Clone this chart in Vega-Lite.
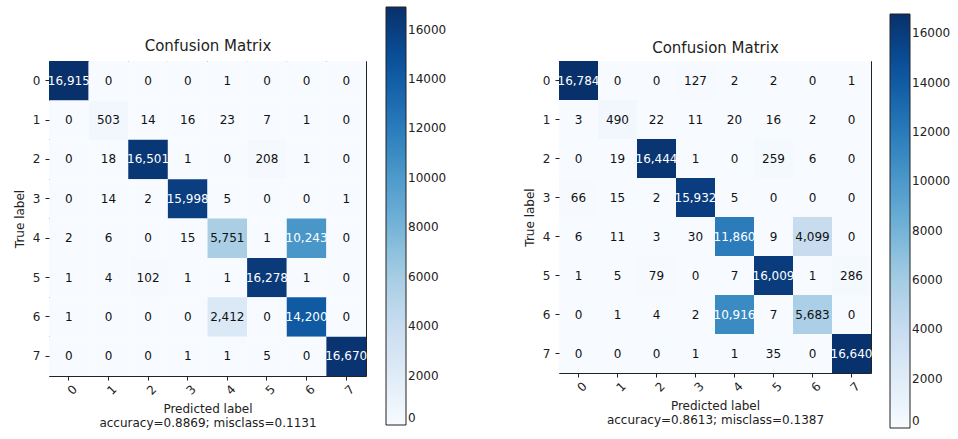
{
  "$schema": "https://vega.github.io/schema/vega-lite/v6.json",
  "padding": {"left": 12, "top": 6, "right": 5, "bottom": 5},
  "spacing": 74,
  "config": {
    "font": "DejaVu Sans",
    "view": {"stroke": "#222", "strokeWidth": 1},
    "axis": {"domain": false, "tickColor": "#222", "tickSize": 4, "labelColor": "#222", "labelFontSize": 12, "titleFontSize": 12, "titleFontWeight": "normal", "titleColor": "#222", "grid": false},
    "legend": {"labelFontSize": 12, "labelColor": "#222", "gradientStrokeColor": "#222", "gradientStrokeWidth": 1, "labelOffset": 10}
  },
  "datasets": {
    "left": [
      {"t":0,"p":0,"v":16915},{"t":0,"p":1,"v":0},{"t":0,"p":2,"v":0},{"t":0,"p":3,"v":0},{"t":0,"p":4,"v":1},{"t":0,"p":5,"v":0},{"t":0,"p":6,"v":0},{"t":0,"p":7,"v":0},
      {"t":1,"p":0,"v":0},{"t":1,"p":1,"v":503},{"t":1,"p":2,"v":14},{"t":1,"p":3,"v":16},{"t":1,"p":4,"v":23},{"t":1,"p":5,"v":7},{"t":1,"p":6,"v":1},{"t":1,"p":7,"v":0},
      {"t":2,"p":0,"v":0},{"t":2,"p":1,"v":18},{"t":2,"p":2,"v":16501},{"t":2,"p":3,"v":1},{"t":2,"p":4,"v":0},{"t":2,"p":5,"v":208},{"t":2,"p":6,"v":1},{"t":2,"p":7,"v":0},
      {"t":3,"p":0,"v":0},{"t":3,"p":1,"v":14},{"t":3,"p":2,"v":2},{"t":3,"p":3,"v":15998},{"t":3,"p":4,"v":5},{"t":3,"p":5,"v":0},{"t":3,"p":6,"v":0},{"t":3,"p":7,"v":1},
      {"t":4,"p":0,"v":2},{"t":4,"p":1,"v":6},{"t":4,"p":2,"v":0},{"t":4,"p":3,"v":15},{"t":4,"p":4,"v":5751},{"t":4,"p":5,"v":1},{"t":4,"p":6,"v":10243},{"t":4,"p":7,"v":0},
      {"t":5,"p":0,"v":1},{"t":5,"p":1,"v":4},{"t":5,"p":2,"v":102},{"t":5,"p":3,"v":1},{"t":5,"p":4,"v":1},{"t":5,"p":5,"v":16278},{"t":5,"p":6,"v":1},{"t":5,"p":7,"v":0},
      {"t":6,"p":0,"v":1},{"t":6,"p":1,"v":0},{"t":6,"p":2,"v":0},{"t":6,"p":3,"v":0},{"t":6,"p":4,"v":2412},{"t":6,"p":5,"v":0},{"t":6,"p":6,"v":14200},{"t":6,"p":7,"v":0},
      {"t":7,"p":0,"v":0},{"t":7,"p":1,"v":0},{"t":7,"p":2,"v":0},{"t":7,"p":3,"v":1},{"t":7,"p":4,"v":1},{"t":7,"p":5,"v":5},{"t":7,"p":6,"v":0},{"t":7,"p":7,"v":16670}
    ],
    "right": [
      {"t":0,"p":0,"v":16784},{"t":0,"p":1,"v":0},{"t":0,"p":2,"v":0},{"t":0,"p":3,"v":127},{"t":0,"p":4,"v":2},{"t":0,"p":5,"v":2},{"t":0,"p":6,"v":0},{"t":0,"p":7,"v":1},
      {"t":1,"p":0,"v":3},{"t":1,"p":1,"v":490},{"t":1,"p":2,"v":22},{"t":1,"p":3,"v":11},{"t":1,"p":4,"v":20},{"t":1,"p":5,"v":16},{"t":1,"p":6,"v":2},{"t":1,"p":7,"v":0},
      {"t":2,"p":0,"v":0},{"t":2,"p":1,"v":19},{"t":2,"p":2,"v":16444},{"t":2,"p":3,"v":1},{"t":2,"p":4,"v":0},{"t":2,"p":5,"v":259},{"t":2,"p":6,"v":6},{"t":2,"p":7,"v":0},
      {"t":3,"p":0,"v":66},{"t":3,"p":1,"v":15},{"t":3,"p":2,"v":2},{"t":3,"p":3,"v":15932},{"t":3,"p":4,"v":5},{"t":3,"p":5,"v":0},{"t":3,"p":6,"v":0},{"t":3,"p":7,"v":0},
      {"t":4,"p":0,"v":6},{"t":4,"p":1,"v":11},{"t":4,"p":2,"v":3},{"t":4,"p":3,"v":30},{"t":4,"p":4,"v":11860},{"t":4,"p":5,"v":9},{"t":4,"p":6,"v":4099},{"t":4,"p":7,"v":0},
      {"t":5,"p":0,"v":1},{"t":5,"p":1,"v":5},{"t":5,"p":2,"v":79},{"t":5,"p":3,"v":0},{"t":5,"p":4,"v":7},{"t":5,"p":5,"v":16009},{"t":5,"p":6,"v":1},{"t":5,"p":7,"v":286},
      {"t":6,"p":0,"v":0},{"t":6,"p":1,"v":1},{"t":6,"p":2,"v":4},{"t":6,"p":3,"v":2},{"t":6,"p":4,"v":10916},{"t":6,"p":5,"v":7},{"t":6,"p":6,"v":5683},{"t":6,"p":7,"v":0},
      {"t":7,"p":0,"v":0},{"t":7,"p":1,"v":0},{"t":7,"p":2,"v":0},{"t":7,"p":3,"v":1},{"t":7,"p":4,"v":1},{"t":7,"p":5,"v":35},{"t":7,"p":6,"v":0},{"t":7,"p":7,"v":16640}
    ]
  },
  "resolve": {"scale": {"color": "independent"}, "legend": {"color": "independent"}},
  "hconcat": [
    {
      "data": {"name": "left"},
      "width": 317,
      "height": 315,
      "resolve": {"axis": {"x": "independent"}},
      "layer": [
        {
          "mark": {"type": "rect"},
          "encoding": {
            "x": {"field": "p", "type": "ordinal", "scale": {"paddingInner": 0, "paddingOuter": 0}, "axis": {"labelAngle": -45, "labelAlign": "center", "labelBaseline": "top", "labelPadding": 6, "title": ["Predicted label", "accuracy=0.8869; misclass=0.1131"], "titlePadding": 7, "titleLineHeight": 14}},
            "y": {"field": "t", "type": "ordinal", "scale": {"paddingInner": 0, "paddingOuter": 0}, "axis": {"labelAngle": 0, "labelPadding": 5, "title": "True label", "titlePadding": 6}},
            "color": {"field": "v", "type": "quantitative",
              "scale": {"domain": [0, 2114.375, 4228.75, 6343.125, 8457.5, 10571.875, 12686.25, 14800.625, 16915], "range": ["#f7fbff","#deebf7","#c6dbef","#9ecae1","#6baed6","#4292c6","#2171b5","#08519c","#08306b"]},
              "legend": {"title": null, "orient": "none", "direction": "vertical", "format": "d", "padding": 0, "legendX": 337, "legendY": -54, "gradientLength": 418, "gradientThickness": 20, "values": [0,2000,4000,6000,8000,10000,12000,14000,16000]}}
          }
        },
        {
          "mark": {"type": "text", "fontSize": 12},
          "encoding": {
            "x": {"field": "p", "type": "ordinal", "axis": {"orient": "top", "labels": false, "ticks": false, "domain": false, "title": "Confusion Matrix", "titleFontSize": 15, "titlePadding": 8}},
            "y": {"field": "t", "type": "ordinal"},
            "text": {"field": "v", "type": "quantitative", "format": ",d"},
            "color": {"condition": {"test": "datum.v > 8457.5", "value": "white"}, "value": "#111"}
          }
        }
      ]
    },
    {
      "data": {"name": "right"},
      "width": 312,
      "height": 312,
      "resolve": {"axis": {"x": "independent"}},
      "layer": [
        {
          "mark": {"type": "rect"},
          "encoding": {
            "x": {"field": "p", "type": "ordinal", "scale": {"paddingInner": 0, "paddingOuter": 0}, "axis": {"labelAngle": -45, "labelAlign": "center", "labelBaseline": "top", "labelPadding": 6, "title": ["Predicted label", "accuracy=0.8613; misclass=0.1387"], "titlePadding": 7, "titleLineHeight": 14}},
            "y": {"field": "t", "type": "ordinal", "scale": {"paddingInner": 0, "paddingOuter": 0}, "axis": {"labelAngle": 0, "labelPadding": 5, "title": "True label", "titlePadding": 6}},
            "color": {"field": "v", "type": "quantitative",
              "scale": {"domain": [0, 2098, 4196, 6294, 8392, 10490, 12588, 14686, 16784], "range": ["#f7fbff","#deebf7","#c6dbef","#9ecae1","#6baed6","#4292c6","#2171b5","#08519c","#08306b"]},
              "legend": {"title": null, "orient": "none", "direction": "vertical", "format": "d", "padding": 0, "legendX": 331, "legendY": -47, "gradientLength": 414, "gradientThickness": 20, "values": [0,2000,4000,6000,8000,10000,12000,14000,16000]}}
          }
        },
        {
          "mark": {"type": "text", "fontSize": 12},
          "encoding": {
            "x": {"field": "p", "type": "ordinal", "axis": {"orient": "top", "labels": false, "ticks": false, "domain": false, "title": "Confusion Matrix", "titleFontSize": 15, "titlePadding": 6}},
            "y": {"field": "t", "type": "ordinal"},
            "text": {"field": "v", "type": "quantitative", "format": ",d"},
            "color": {"condition": {"test": "datum.v > 8392", "value": "white"}, "value": "#111"}
          }
        }
      ]
    }
  ]
}
